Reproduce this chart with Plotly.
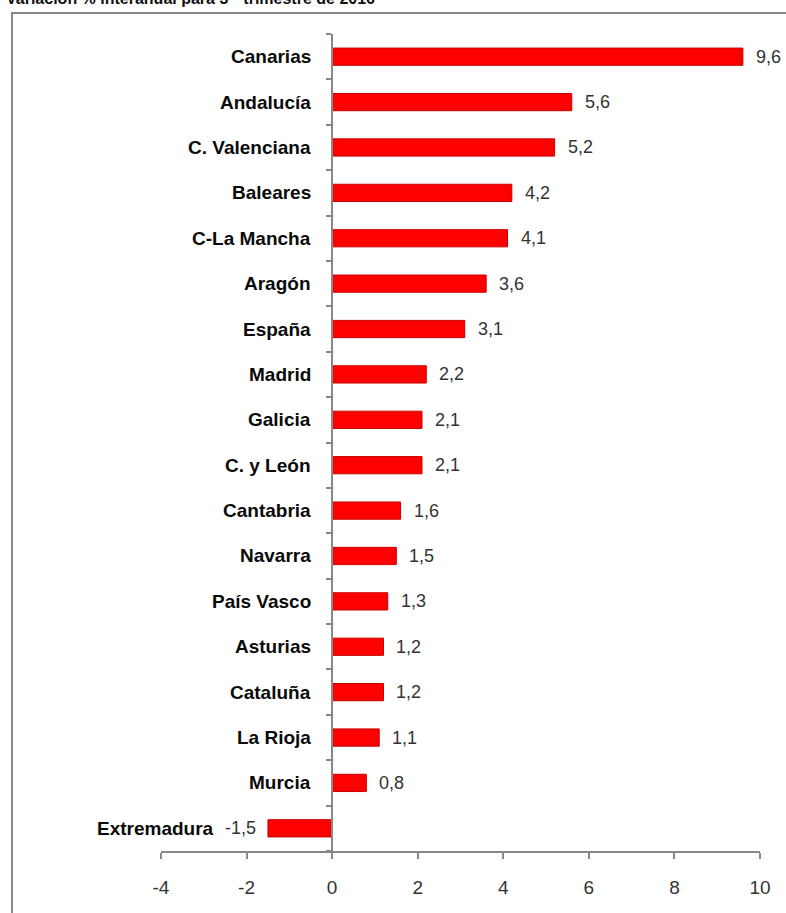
import plotly.graph_objects as go

regions = ["Canarias", "Andalucía", "C. Valenciana", "Baleares", "C-La Mancha", "Aragón",
           "España", "Madrid", "Galicia", "C. y León", "Cantabria", "Navarra", "País Vasco",
           "Asturias", "Cataluña", "La Rioja", "Murcia", "Extremadura"]
values = [9.6, 5.6, 5.2, 4.2, 4.1, 3.6, 3.1, 2.2, 2.1, 2.1, 1.6, 1.5, 1.3, 1.2, 1.2, 1.1, 0.8, -1.5]
x_ticks = [-4, -2, 0, 2, 4, 6, 8, 10]
title_text = "Variación % interanual para 3<sup>er</sup> trimestre de 2016"

FONT = "Liberation Sans, Arial"

def fmt(v):
    return f"{v:.1f}".replace(".", ",")

fig = go.Figure()
fig.add_trace(go.Bar(
    y=regions, x=values, orientation="h",
    marker=dict(color="#FF0000", line=dict(color="#C80000", width=1)),
    width=0.38, hoverinfo="skip",
))

annotations = []
for r, v in zip(regions, values):
    if v >= 0:
        annotations.append(dict(x=v, y=r, xref="x", yref="y", text=fmt(v), showarrow=False,
                                xanchor="left", xshift=11,
                                font=dict(family=FONT, size=18, color="#333333")))
        annotations.append(dict(x=0, y=r, xref="x", yref="y", text=f"<b>{r}</b>", showarrow=False,
                                xanchor="right", xshift=-19,
                                font=dict(family=FONT, size=19, color="#0a0a0a")))
    else:
        annotations.append(dict(x=v, y=r, xref="x", yref="y", text=fmt(v), showarrow=False,
                                xanchor="right", xshift=-10,
                                font=dict(family=FONT, size=18, color="#333333")))
        annotations.append(dict(x=v, y=r, xref="x", yref="y", text=f"<b>{r}</b>", showarrow=False,
                                xanchor="right", xshift=-52,
                                font=dict(family=FONT, size=19, color="#0a0a0a")))

annotations.append(dict(x=-0.262, y=1.030, xref="paper", yref="paper", text=f"<b>{title_text}</b>",
                        showarrow=False, xanchor="left", yanchor="bottom",
                        font=dict(family=FONT, size=16, color="#111111")))

fig.update_layout(
    width=786, height=913,
    margin=dict(l=161, r=26, t=34, b=62),
    paper_bgcolor="white", plot_bgcolor="white",
    showlegend=False,
    annotations=annotations,
    xaxis=dict(range=[-4, 10], tickvals=x_ticks, ticktext=[str(t) for t in x_ticks],
               showgrid=False, zeroline=False, showline=True, linecolor="#888888", linewidth=2,
               ticks="outside", ticklen=6, tickwidth=2, tickcolor="#888888",
               tickfont=dict(family=FONT, size=19, color="#333333"), ticklabelstandoff=12),
    yaxis=dict(categoryorder="array", categoryarray=regions[::-1], type="category",
               anchor="free", position=4/14, showgrid=False, zeroline=False,
               showline=True, linecolor="#888888", linewidth=2,
               ticks="outside", tickson="boundaries", ticklen=5, tickwidth=2, tickcolor="#888888",
               showticklabels=False, range=[-0.5, len(regions) - 0.5]),
    shapes=[dict(type="rect", xref="paper", yref="paper", x0=-0.2487, x1=1.06, y0=-0.1, y1=1.0257,
                 line=dict(color="#888888", width=2), fillcolor="rgba(0,0,0,0)", layer="below")],
)

fig.write_html("out.html", config={"displayModeBar": False},
               post_script="document.body.style.margin='0px';")
